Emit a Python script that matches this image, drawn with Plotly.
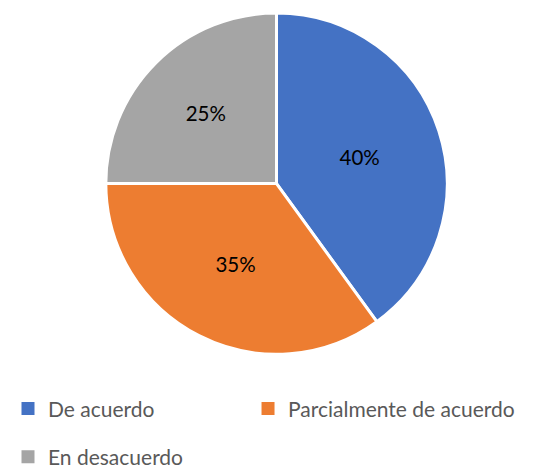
import plotly.graph_objects as go

labels = ['De acuerdo', 'Parcialmente de acuerdo', 'En desacuerdo']
values = [40, 35, 25]
colors = ['#4472C4', '#ED7D31', '#A5A5A5']

fig = go.Figure()
fig.add_trace(go.Pie(
    labels=labels, values=values, sort=False, direction='clockwise', rotation=0,
    marker=dict(colors=colors, line=dict(color='white', width=3)),
    textinfo='percent', texttemplate='%{percent:.0%}', textposition='inside',
    insidetextorientation='horizontal', showlegend=False,
    textfont=dict(family='Lato', size=20.5, color='#000000'),
    domain=dict(x=[96 / 548, 441 / 548], y=[1 - 350 / 470, 1 - 5 / 470]),
))

# legend entries, one legend box each so they sit where the original has them
legend_ids = ['legend', 'legend2', 'legend3']
for lab, col, lid in zip(labels, colors, legend_ids):
    fig.add_trace(go.Scatter(x=[None], y=[None], mode='markers', name=lab, legend=lid,
                             marker=dict(symbol='square', size=13, color=col)))

leg_font = dict(family='Lato', size=21, color='#595959')
fig.update_layout(
    width=548, height=470,
    margin=dict(l=0, r=0, t=0, b=0),
    paper_bgcolor='white', plot_bgcolor='white',
    xaxis=dict(visible=False), yaxis=dict(visible=False),
    legend=dict(x=0, xanchor='left', y=0.138, yanchor='middle', font=leg_font),
    legend2=dict(x=0.438, xanchor='left', y=0.138, yanchor='middle', font=leg_font),
    legend3=dict(x=0, xanchor='left', y=0.034, yanchor='middle', font=leg_font),
)
fig.write_html('out.html')
